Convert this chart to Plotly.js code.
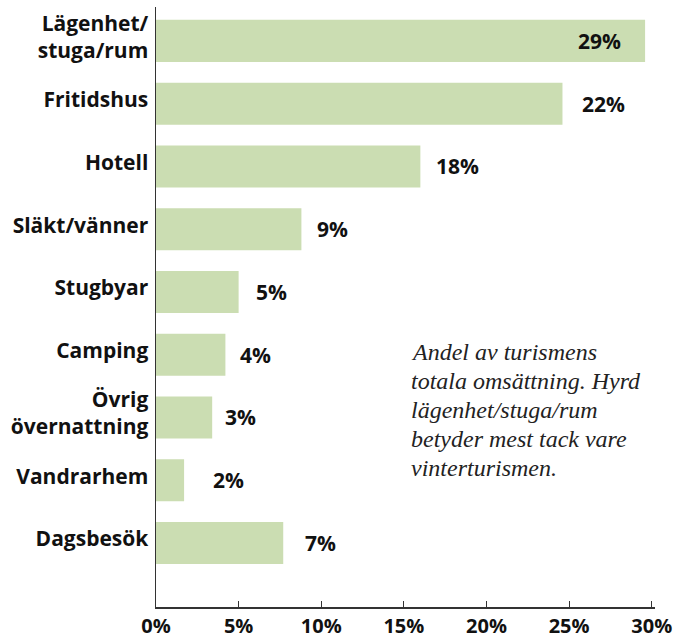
<!DOCTYPE html>
<html>
<head>
<meta charset="utf-8">
<script src="https://cdn.plot.ly/plotly-3.0.1.min.js"></script>
<style>html,body{margin:0;padding:0;background:#fff;}#chart{width:675px;height:637px;}</style>
</head>
<body>
<div id="chart"></div>
<script>
// Categories (top to bottom)
const categories = ["Lägenhet/<br>stuga/rum", "Fritidshus", "Hotell", "Släkt/vänner", "Stugbyar", "Camping", "Övrig<br>övernattning", "Vandrarhem", "Dagsbesök"];
// Bar lengths as drawn in the picture (percent)
const barValues = [29.6, 24.6, 16.0, 8.8, 5.0, 4.2, 3.4, 1.7, 7.7];
// Printed value labels
const valueLabels = ["29%", "22%", "18%", "9%", "5%", "4%", "3%", "2%", "7%"];
// X tick values and labels
const xTickVals = [0, 5, 10, 15, 20, 25, 30];
const xTickText = ["0%", "5%", "10%", "15%", "20%", "25%", "30%"];
// Note text, line by line
const noteLines = ["Andel av turismens", "totala omsättning. Hyrd", "lägenhet/stuga/rum", "betyder mest tack vare", "vinterturismen."];

// style: horizontal offset (px) of each value label from bar end
const labelShift = [-22, 18, 14, 14, 15, 13, 11, 27, 20];

const annotations = barValues.map((v, i) => ({
  x: v, y: categories[i], xref: 'x', yref: 'y',
  text: valueLabels[i], showarrow: false,
  xanchor: labelShift[i] < 0 ? 'right' : 'left',
  xshift: labelShift[i], yshift: 0,
  font: {family: 'Open Sans', size: 21, color: '#111', weight: 700}
}));
noteLines.forEach((line, i) => {
  annotations.push({
    xref: 'paper', yref: 'paper', x: 0.508, y: 0.425,
    xanchor: 'left', yanchor: 'middle', align: 'left', showarrow: false,
    yshift: -29 * i,
    text: line,
    font: {family: 'Liberation Serif', size: 24, color: '#222', style: 'italic'}
  });
});

const trace = {
  type: 'bar', orientation: 'h',
  x: barValues, y: categories,
  marker: {color: '#cbddb2'},
  hoverinfo: 'none'
};

const layout = {
  width: 675, height: 637,
  margin: {l: 156, r: 20, t: 7, b: 30},
  paper_bgcolor: '#fff', plot_bgcolor: '#fff',
  bargap: 0.33,
  showlegend: false,
  font: {family: 'Open Sans', color: '#111'},
  xaxis: {
    range: [0, 30.2], tickvals: xTickVals, ticktext: xTickText,
    showgrid: false, zeroline: false,
    showline: true, linecolor: '#333', linewidth: 1.5,
    ticks: 'inside', ticklen: 6, tickcolor: '#333', tickwidth: 1,
    tickfont: {family: 'Open Sans', size: 20, color: '#111', weight: 700},
    fixedrange: true
  },
  yaxis: {
    type: 'category', range: [9.02, -0.54],
    showgrid: false, zeroline: false,
    showline: true, linecolor: '#333', linewidth: 1.5,
    ticks: '', ticklabelstandoff: 2, ticklabelshift: 4,
    tickfont: {family: 'Open Sans', size: 21, color: '#111', weight: 700},
    fixedrange: true
  },
  annotations: annotations
};

Plotly.newPlot('chart', [trace], layout, {staticPlot: true, displayModeBar: false});
</script>
</body>
</html>
